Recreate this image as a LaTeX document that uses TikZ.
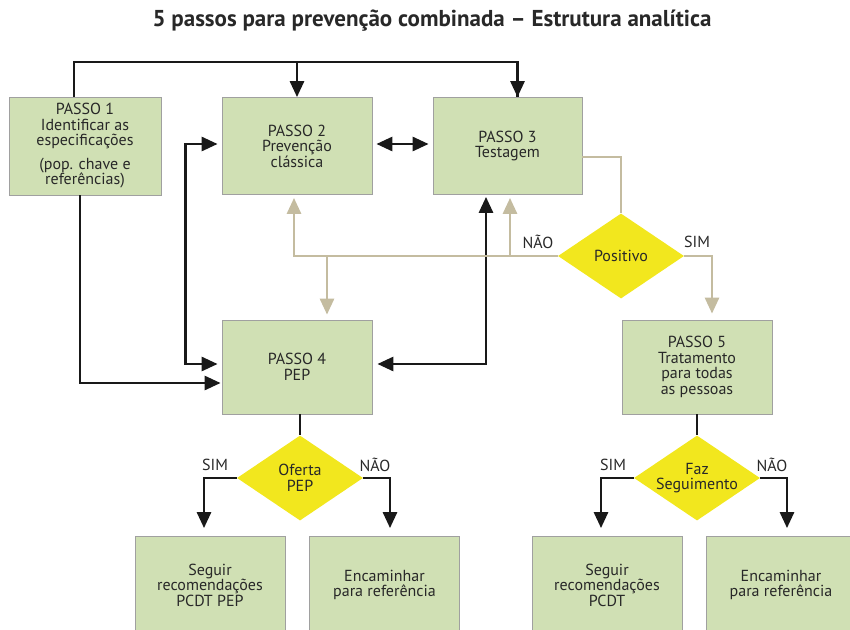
\documentclass[tikz,border=0pt]{standalone}
\usepackage{fontspec}
\setmainfont{PT Sans}
\usepackage{tikz}
\usetikzlibrary{arrows.meta,shapes.geometric}

\definecolor{boxgreen}{RGB}{208,224,180}
\definecolor{boxline}{RGB}{160,160,160}
\definecolor{diayellow}{RGB}{242,231,30}
\definecolor{tanline}{RGB}{196,188,160}
\definecolor{txt}{RGB}{40,40,40}

\begin{document}
\begin{tikzpicture}[x=1pt,y=-1pt,
    passo/.style={draw=boxline, line width=0.8pt, fill=boxgreen, inner sep=0pt,
        minimum width=150pt, minimum height=97pt, align=center, text=txt,
        font=\fontsize{16}{15.5}\selectfont},
    decisao/.style={diamond, fill=diayellow, inner sep=0pt, minimum width=126pt,
        minimum height=85pt, align=center, text=txt, font=\fontsize{16}{15.5}\selectfont},
    blk/.style={line width=2.8pt, draw=black!90},
    tan/.style={line width=2.8pt, draw=tanline},
    tip/.style={-{Triangle[length=16pt,width=14pt]}},
    tips/.style={{Triangle[length=16pt,width=14pt]}-{Triangle[length=16pt,width=14pt]}},
    lbl/.style={text=txt, font=\fontsize{16}{15.5}\selectfont}]

    \useasboundingbox (0,0) rectangle (850,629);
    \clip (0,0) rectangle (850,629);

    % titulo
    \node[text=txt, font=\fontsize{23}{25}\bfseries] (titulo) at (432,21)
        {5 passos para prevenção combinada – Estrutura analítica};

    % passos
    \node[passo, minimum width=152pt, minimum height=98pt] (p1) at (85,146)
        {PASSO 1\\Identificar as\\especificações\\[8pt](pop. chave e\\referências)};
    \node[passo] (p2) at (297,146) {PASSO 2\\Prevenção\\clássica};
    \node[passo, minimum width=149pt] (p3) at (507.5,146) {PASSO 3\\Testagem};
    \node[passo, minimum height=94pt] (p4) at (297,367) {PASSO 4\\PEP};
    \node[passo, minimum height=94pt] (p5) at (697,367)
        {PASSO 5\\Tratamento\\para todas\\as pessoas};

    % decisoes
    \node[decisao] (pos) at (621,256) {Positivo};
    \node[decisao] (ofe) at (300,478) {Oferta\\PEP};
    \node[decisao] (faz) at (697,478) {};
    \node[lbl, align=center] (fazt) at (faz) {Faz\\Seguimento};

    % saidas
    \node[passo] (sg1) at (210,585) {Seguir\\recomendações\\PCDT PEP};
    \node[passo] (enc1) at (384.5,585) {Encaminhar\\para referência};
    \node[passo] (sg2) at (607,585) {Seguir\\recomendações\\PCDT};
    \node[passo] (enc2) at (781,585) {Encaminhar\\para referência};

    % conexoes pretas
    \coordinate (topo) at (74,62);
    \draw[blk] ([xshift=-11pt]p1.north) -- (topo) -| ([xshift=10pt]p3.north);
    \draw[blk, tip] (p2.north |- topo) -- (p2.north);
    \draw[blk, tip] ([xshift=10pt]p3.north |- topo) -- ([xshift=10pt]p3.north);
    \draw[blk, tip] ([xshift=-5pt]p1.south) |- ([xshift=-1pt,yshift=-16pt]p4.west);
    \draw[blk, tips] ([xshift=-4pt,yshift=2pt]p2.west) -- ++(-32,0)
        |- ([xshift=-4pt,yshift=3pt]p4.west);
    \draw[blk, tips] ([xshift=4pt,yshift=2pt]p2.east) -- ([xshift=-4pt,yshift=2pt]p3.west);
    \draw[blk, tips] ([xshift=-21.5pt,yshift=-2pt]p3.south)
        |- ([xshift=5pt,yshift=3pt]p4.east);

    % conexoes positivo
    \draw[tan] ([yshift=-11pt]p3.east) -| (pos.north);
    \draw[tan, tip] (pos.west) -| ([xshift=-3pt,yshift=-3pt]p2.south);
    \draw[tan, tip] ([xshift=2.5pt]p3.south |- pos.west) -- ([xshift=2.5pt,yshift=-3pt]p3.south);
    \draw[tan, tip] ([xshift=30pt]p4.north |- pos.west) -- ([xshift=30pt,yshift=5pt]p4.north);
    \draw[tan, tip] (pos.east) -| ([xshift=15pt,yshift=6pt]p5.north);
    \node[lbl] (nao1) at (538,242) {NÃO};
    \node[lbl] (sim1) at (697,242) {SIM};

    % oferta pep
    \draw[blk] (p4.south -| ofe.north) -- (ofe.north);
    \draw[blk, tip] (ofe.west) -| ([xshift=-6pt,yshift=8pt]sg1.north);
    \draw[blk, tip] (ofe.east) -| ([xshift=5.5pt,yshift=8pt]enc1.north);
    \node[lbl] (sim2) at (215,465) {SIM};
    \node[lbl] (nao2) at (375,465) {NÃO};

    % faz seguimento
    \draw[blk] (p5.south) -- (faz.north);
    \draw[blk, tip] (faz.west) -| ([xshift=-6pt,yshift=8pt]sg2.north);
    \draw[blk, tip] (faz.east) -| ([xshift=6pt,yshift=8pt]enc2.north);
    \node[lbl] (sim3) at (613,465) {SIM};
    \node[lbl] (nao3) at (772,465) {NÃO};

\end{tikzpicture}
\end{document}
